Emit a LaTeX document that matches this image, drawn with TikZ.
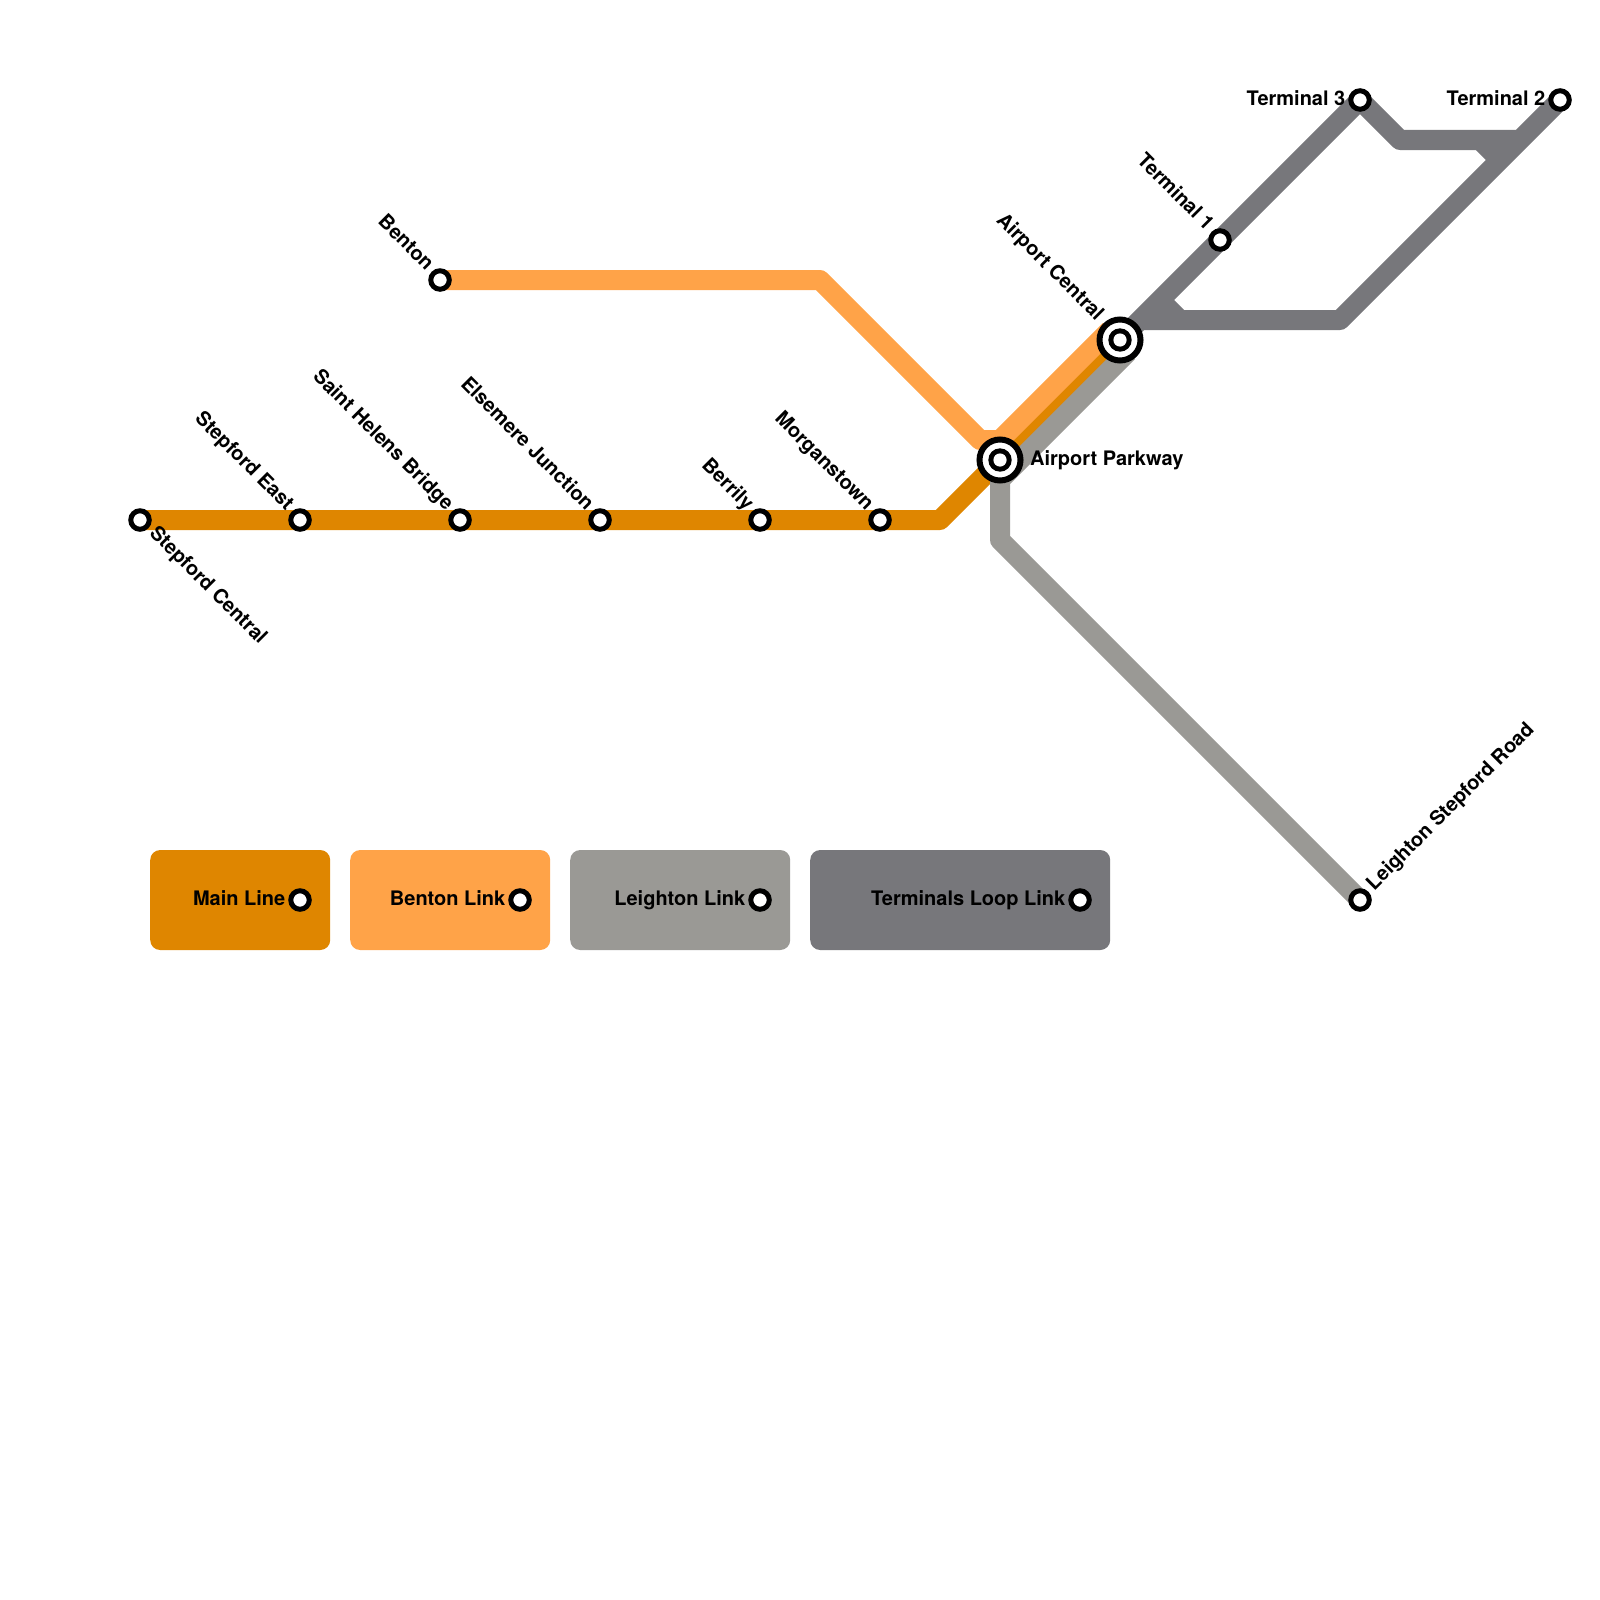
\documentclass[tikz,border=0pt]{standalone}
\usepackage{fontspec}
\setmainfont{TeX Gyre Heros}
\usetikzlibrary{backgrounds}
\definecolor{mainc}{HTML}{DF8600}
\definecolor{bentonc}{HTML}{FFA348}
\definecolor{leightonc}{HTML}{9A9995}
\definecolor{termc}{HTML}{77777B}
\tikzset{
  x=1pt,y=-1pt,
  routeline/.style={line width=20pt,line join=round,line cap=butt},
  stop/.style={circle,draw=black,fill=white,line width=5pt,minimum size=18.5pt,inner sep=0pt},
  hub/.style={circle,draw=black,fill=white,line width=6pt,minimum size=41pt,inner sep=0pt,
    path picture={\fill[black] (path picture bounding box.center) circle[radius=11.7pt];
                  \fill[white] (path picture bounding box.center) circle[radius=6.6pt];}},
  lbl/.style={font=\bfseries\fontsize{20}{24}\selectfont,text=black,inner sep=0pt},
  leftdown/.style={lbl,anchor=base east,xshift=-14.1pt,yshift=8.5pt,rotate=-45},
  hubleft/.style={lbl,anchor=base east,xshift=-24pt,yshift=18.4pt,rotate=-45},
  flatleft/.style={lbl,anchor=base east,xshift=-14.5pt,yshift=-5.2pt},
  legendbox/.style={rounded corners=10pt,minimum height=100pt,inner sep=0pt,anchor=west}
}
\begin{document}
\begin{tikzpicture}
\useasboundingbox (0,0) rectangle (1600,1600);
% legend boxes
\node[legendbox,fill=mainc,minimum width=180pt] (boxmain) at (150,900) {};
\node[legendbox,fill=bentonc,minimum width=200pt] (boxbenton) at (350,900) {};
\node[legendbox,fill=leightonc,minimum width=220pt] (boxleighton) at (570,900) {};
\node[legendbox,fill=termc,minimum width=300pt] (boxterm) at (810,900) {};
% bend points
\coordinate (m1) at (940,520);
\coordinate (b1) at (820,280);
\coordinate (b2) at (980,440);
\coordinate (b3) at (1000,440);
\coordinate (b4) at (1110,330);
\coordinate (l1) at (1000,540);
\coordinate (l2) at (1000,480);
\coordinate (l3) at (1128,352);
\coordinate (t1) at (1400,140);
\coordinate (t2) at (1520,140);
\coordinate (t3) at (1340,320);
\coordinate (t4) at (1140,320);
\coordinate (s1) at (1480,140);
\coordinate (s2) at (1500,160);
\coordinate (s3) at (1160,300);
\coordinate (s4) at (1180,320);
% stations
\node[stop] (sc) at (140,520) {};
\node[stop] (se) at (300,520) {};
\node[stop] (sh) at (460,520) {};
\node[stop] (ej) at (600,520) {};
\node[stop] (be) at (760,520) {};
\node[stop] (mo) at (880,520) {};
\node[stop] (bn) at (440,280) {};
\node[hub] (ap) at (1000,460) {};
\node[hub] (ac) at (1120,340) {};
\node[stop] (te1) at (1220,240) {};
\node[stop] (te3) at (1360,100) {};
\node[stop] (te2) at (1560,100) {};
\node[stop] (ls) at (1360,900) {};
\node[stop] (lgm) at (300,900) {};
\node[stop] (lgb) at (520,900) {};
\node[stop] (lgl) at (760,900) {};
\node[stop] (lgt) at (1080,900) {};
% route lines
\begin{scope}[on background layer]
\draw[routeline,termc] (ac.center) -- (te1.center) -- (te3.center) -- (t1) -- (t2) -- (te2.center) -- (t3) -- (t4) -- (ac.center);
\draw[routeline,termc] (s1) -- (s2);
\draw[routeline,termc] (s3) -- (s4);
\draw[routeline,mainc] (sc.center) -- (mo.center) -- (m1) -- (ap.center) -- (ac.center);
\draw[routeline,bentonc] (bn.center) -- (b1) -- (b2) -- (b3) -- (b4);
\draw[routeline,leightonc] (ls.center) -- (l1) -- (l2) -- (l3);
\end{scope}
% labels
\node[lbl,anchor=base west,xshift=8.5pt,yshift=-14.1pt,rotate=-45] (tsc) at (sc) {Stepford Central};
\node[leftdown] (tse) at (se) {Stepford East};
\node[leftdown] (tsh) at (sh) {Saint Helens Bridge};
\node[leftdown] (tej) at (ej) {Elsemere Junction};
\node[leftdown] (tbe) at (be) {Berrily};
\node[leftdown] (tmo) at (mo) {Morganstown};
\node[leftdown] (tbn) at (bn) {Benton};
\node[hubleft] (tac) at (ac) {Airport Central};
\node[leftdown] (tte1) at (te1) {Terminal 1};
\node[lbl,anchor=base west,xshift=30pt,yshift=-5pt] (tap) at (ap) {Airport Parkway};
\node[flatleft] (tte3) at (te3) {Terminal 3};
\node[flatleft] (tte2) at (te2) {Terminal 2};
\node[lbl,anchor=base west,xshift=14.1pt,yshift=8.5pt,rotate=45] (tls) at (ls) {Leighton Stepford Road};
\node[flatleft] (tlgm) at (lgm) {Main Line};
\node[flatleft] (tlgb) at (lgb) {Benton Link};
\node[flatleft] (tlgl) at (lgl) {Leighton Link};
\node[flatleft] (tlgt) at (lgt) {Terminals Loop Link};
\end{tikzpicture}
\end{document}
